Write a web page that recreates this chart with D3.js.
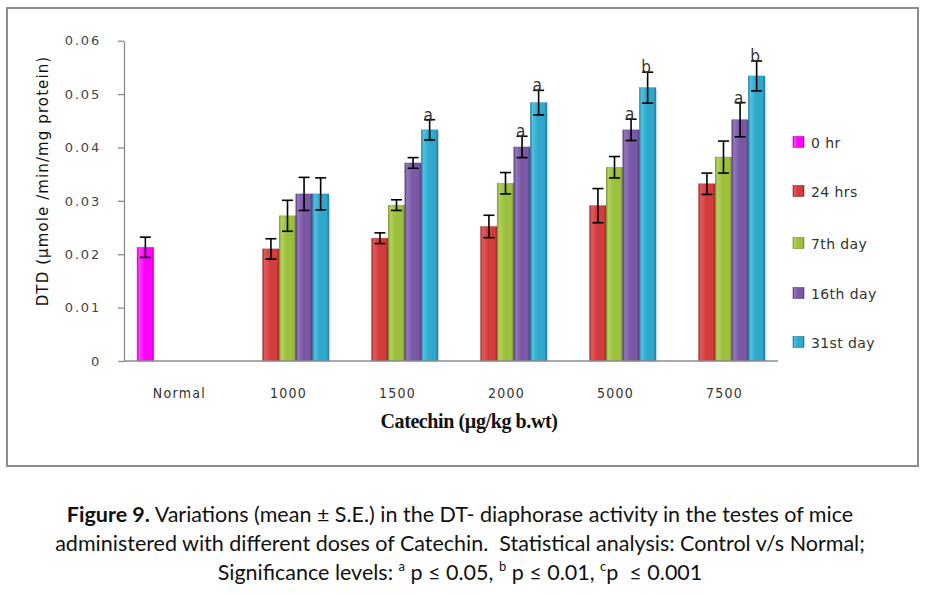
<!DOCTYPE html>
<html><head><meta charset="utf-8">
<script src="https://cdn.jsdelivr.net/npm/d3@7"></script>
<style>body{margin:0;background:#fff}</style>
</head><body>
<svg id="c" width="926" height="595"></svg>
<script>
const categories = ["Normal","1000","1500","2000","5000","7500"];
const seriesNames = ["0 hr","24 hrs","7th day","16th day","31st day"];
const yTicks = [0,0.01,0.02,0.03,0.04,0.05,0.06];
const yTickLabels = ["0","0.01","0.02","0.03","0.04","0.05","0.06"];
const v0hr  = [0.0213, null, null, null, null, null];
const v24h  = [null, 0.0210, 0.0230, 0.0252, 0.0291, 0.0332];
const v7d   = [null, 0.0272, 0.0292, 0.0333, 0.0363, 0.0382];
const v16d  = [null, 0.0313, 0.0371, 0.0401, 0.0433, 0.0452];
const v31d  = [null, 0.0313, 0.0433, 0.0484, 0.0512, 0.0534];
const e0hr  = [0.0019, null, null, null, null, null];
const e24h  = [null, 0.0019, 0.0010, 0.0021, 0.0032, 0.0020];
const e7d   = [null, 0.0029, 0.0010, 0.0020, 0.0020, 0.0030];
const e16d  = [null, 0.0031, 0.0010, 0.0020, 0.0020, 0.0032];
const e31d  = [null, 0.0030, 0.0019, 0.0023, 0.0029, 0.0028];
const s0hr  = ["","","","","",""];
const s24h  = ["","","","","",""];
const s7d   = ["","","","","",""];
const s16d  = ["","","","a","a","a"];
const s31d  = ["","","a","a","b","b"];

const values = [v0hr, v24h, v7d, v16d, v31d];
const errors = [e0hr, e24h, e7d, e16d, e31d];
const sigs = [s0hr, s24h, s7d, s16d, s31d];
const colors = [
  {base:"#ff00ff", dark:"#c000c0", light:"#ff40ff"},
  {base:"#d23c3c", dark:"#992525", light:"#e35a5a"},
  {base:"#9cbf3e", dark:"#728f2a", light:"#b2d35a"},
  {base:"#7b58a5", dark:"#56397d", light:"#9577bd"},
  {base:"#2fa8cb", dark:"#1c7794", light:"#4fc2e2"}
];

const svg = d3.select("#c");
const defs = svg.append("defs");
colors.forEach((c,i)=>{
  const g = defs.append("linearGradient").attr("id","g"+i).attr("x1","0").attr("x2","1").attr("y1","0").attr("y2","0");
  g.append("stop").attr("offset","0").attr("stop-color",c.dark);
  g.append("stop").attr("offset","0.12").attr("stop-color",c.light);
  g.append("stop").attr("offset","0.45").attr("stop-color",c.base);
  g.append("stop").attr("offset","0.85").attr("stop-color",c.base);
  g.append("stop").attr("offset","1").attr("stop-color",c.dark);
});

// chart frame
svg.append("rect").attr("x",7).attr("y",8).attr("width",911).attr("height",458)
  .attr("fill","none").attr("stroke","#8c8c8c").attr("stroke-width",2);

const pL = 124, pR = 778, pT = 40.7, pB = 361;
const y = d3.scaleLinear().domain([0,0.06]).range([pB, pT]);
const x0 = d3.scaleBand().domain(categories).range([pL,pR]).paddingInner(0.24).paddingOuter(0.12);
const x1 = d3.scaleBand().domain(d3.range(seriesNames.length)).range([0,x0.bandwidth()]);

// y axis
const yAxis = svg.append("g").attr("transform",`translate(${pL},0)`)
  .call(d3.axisLeft(y).tickValues(yTicks).tickFormat((d,i)=>yTickLabels[i]).tickSize(6).tickSizeOuter(0).tickPadding(17));
yAxis.select(".domain").attr("stroke","#8c8c8c").attr("stroke-width",1.3);
yAxis.selectAll(".tick line").attr("stroke","#8c8c8c").attr("stroke-width",1.3);
yAxis.selectAll(".tick text").attr("font-family","DejaVu Sans").attr("font-size",13).attr("fill","#444").attr("letter-spacing","1.8px");

// bars
const bars = svg.append("g");
values.forEach((arr,si)=>{
  arr.forEach((v,ci)=>{
    if(v==null) return;
    const bx = x0(categories[ci]) + x1(si);
    const bw = x1.bandwidth();
    bars.append("rect").attr("x",bx+2).attr("y",y(v)+2).attr("width",bw).attr("height",pB-y(v)-2)
      .attr("fill","#000").attr("opacity",0.08);
    bars.append("rect").attr("x",bx).attr("y",y(v)).attr("width",bw).attr("height",pB-y(v))
      .attr("fill",`url(#g${si})`).attr("stroke",colors[si].dark).attr("stroke-width",0.6).attr("stroke-opacity",0.6);
  });
});

// x axis
svg.append("line").attr("x1",pL).attr("x2",pR).attr("y1",pB).attr("y2",pB)
  .attr("stroke","#8c8c8c").attr("stroke-width",1.5);

// error bars and significance
const eg = svg.append("g");
values.forEach((arr,si)=>{
  arr.forEach((v,ci)=>{
    if(v==null) return;
    const e = errors[si][ci];
    const cx = x0(categories[ci]) + x1(si) + x1.bandwidth()/2;
    const yt = y(v+e), yb = y(v-e);
    eg.append("line").attr("x1",cx).attr("x2",cx).attr("y1",yt).attr("y2",yb).attr("stroke","#000").attr("stroke-width",1.6);
    [yt,yb].forEach(yy=>eg.append("line").attr("x1",cx-5.5).attr("x2",cx+5.5).attr("y1",yy).attr("y2",yy).attr("stroke","#000").attr("stroke-width",1.6));
    const s = sigs[si][ci];
    if(s) eg.append("text").attr("x",cx-1.5).attr("y",yt+1).attr("text-anchor","middle")
      .attr("font-family","DejaVu Sans Condensed, DejaVu Sans").attr("font-size",17).attr("fill","#333").text(s);
  });
});

// category labels
svg.append("g").selectAll("text").data(categories).join("text")
  .attr("x",d=>x0(d)+x0.bandwidth()/2+1).attr("y",398).attr("text-anchor","middle")
  .attr("font-family","DejaVu Sans Condensed, DejaVu Sans").attr("font-size",14).attr("letter-spacing","1.3px")
  .attr("fill","#333").text(d=>d);

// axis titles
svg.append("text").attr("x",469).attr("y",428).attr("text-anchor","middle")
  .attr("font-family","Liberation Serif").attr("font-weight","bold").attr("font-size",20)
  .attr("letter-spacing","-0.4px").attr("fill","#111").text("Catechin (µg/kg b.wt)");
svg.append("text").attr("transform","translate(48,181) rotate(-90)").attr("text-anchor","middle")
  .attr("font-family","DejaVu Sans").attr("font-size",15).attr("letter-spacing","1.1px")
  .attr("fill","#111").text("DTD (µmole /min/mg protein)");

// legend
const legY = [142,191,243,293,342];
const leg = svg.append("g");
seriesNames.forEach((n,i)=>{
  leg.append("rect").attr("x",793).attr("y",legY[i]-5.5).attr("width",11).attr("height",11)
    .attr("fill",`url(#g${i})`).attr("stroke",colors[i].dark).attr("stroke-width",0.6);
  leg.append("text").attr("x",811).attr("y",legY[i]+5.5).attr("font-family","DejaVu Sans")
    .attr("font-size",14).attr("letter-spacing","0.4px").attr("fill","#333").text(n);
});

// caption
const cap = svg.append("g").attr("font-family","Lato, Open Sans").attr("font-size",21.5).attr("fill","#111").attr("text-anchor","middle");
const l1 = cap.append("text").attr("x",460).attr("y",522);
l1.append("tspan").attr("font-weight","bold").text("Figure 9.");
l1.append("tspan").text(" Variations (mean ± S.E.) in the DT- diaphorase activity in the testes of mice");
cap.append("text").attr("x",460).attr("y",551).style("white-space","pre").text("administered with different doses of Catechin.  Statistical analysis: Control v/s Normal;");
const l3 = cap.append("text").attr("x",460).attr("y",580);
l3.append("tspan").text("Significance levels: ");
l3.append("tspan").attr("font-size",13).attr("dy",-9).text("a");
l3.append("tspan").attr("dy",9).text(" p ≤ 0.05, ");
l3.append("tspan").attr("font-size",13).attr("dy",-9).text("b");
l3.append("tspan").attr("dy",9).text(" p ≤ 0.01, ");
l3.append("tspan").attr("font-size",13).attr("dy",-9).text("c");
l3.append("tspan").attr("dy",9).style("white-space","pre").text("p  ≤ 0.001");
</script>
</body></html>
